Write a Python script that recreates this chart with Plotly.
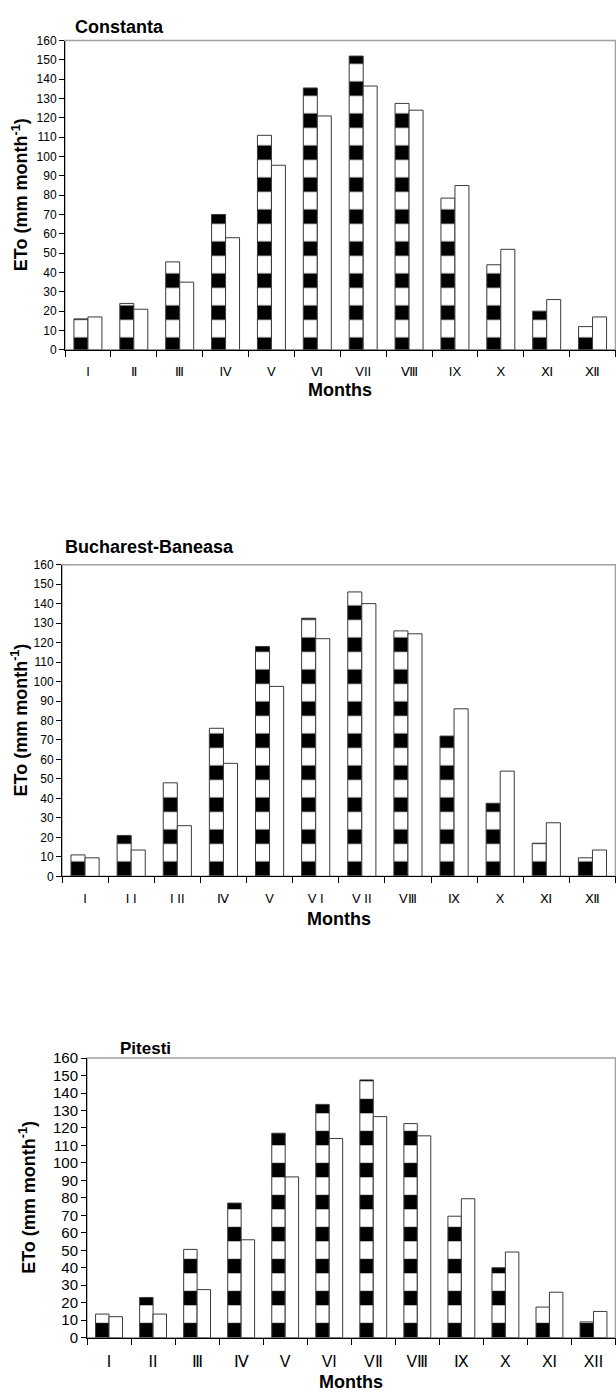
import plotly.graph_objects as go

months = ["I", "II", "III", "IV", "V", "VI", "VII", "VIII", "IX", "X", "XI", "XII"]

# tick labels as printed in each panel
labels_constanta = ["I", "Ⅱ", "Ⅲ", "IV", "V", "Ⅵ", "VII", "Ⅷ", "IX", "X", "Ⅺ", "Ⅻ"]
labels_bucharest = ["I", "I I", "I II", "Ⅳ", "V", "V I", "V II", "VⅢ", "Ⅸ", "X", "Ⅺ", "Ⅻ"]
labels_pitesti = ["I", "II", "Ⅲ", "Ⅳ", "V", "VI", "VⅡ", "VⅢ", "Ⅸ", "X", "XI", "XII"]

# ETo values (mm month-1): striped series and white series
constanta_striped = [16, 24, 45.5, 70, 111, 135.5, 152, 127.5, 78.5, 44, 20, 12]
constanta_white = [17, 21, 35, 58, 95.5, 121, 136.5, 124, 85, 52, 26, 17]

bucharest_striped = [11, 21, 48, 76, 118, 132.5, 146, 126, 72, 37.5, 17, 9.5]
bucharest_white = [9.5, 13.5, 26, 58, 97.5, 122, 140, 124.5, 86, 54, 27.5, 13.5]

pitesti_striped = [13.5, 23, 50.5, 77, 117, 133.5, 147.5, 122.5, 69.5, 40, 17.5, 9]
pitesti_white = [12, 13.5, 27.5, 56, 92, 114, 126.5, 115.5, 79.5, 49, 26, 15]

titles = ["Constanta", "Bucharest-Baneasa", "Pitesti"]

W, H = 616, 1398
FONT = "Liberation Sans, Arial, sans-serif"

# pixel geometry of each panel: left, right, top, bottom
panels = [
    dict(l=65, r=615.5, t=32, b=345, tick=12, lab=13, ytx=20, title_x=73, title_y=18,
         tlab_off=10, months_y=386, ticktext=labels_constanta,
         s=constanta_striped, w=constanta_white, tfont=18),
    dict(l=62, r=615.5, t=562.5, b=878, tick=12, lab=13, ytx=20, title_x=63, title_y=545,
         tlab_off=10, months_y=921, ticktext=labels_bucharest,
         s=bucharest_striped, w=bucharest_white, tfont=18),
    dict(l=87, r=615.5, t=1062, b=1345, tick=15, lab=16, ytx=28, title_x=118, title_y=1052,
         tlab_off=9, months_y=1390, ticktext=labels_pitesti,
         s=pitesti_striped, w=pitesti_white, tfont=17),
]

fig = go.Figure()
shapes = []
annotations = []

for i, p in enumerate(panels):
    n = "" if i == 0 else str(i + 1)
    xa, ya = "x" + n, "y" + n
    fig.add_trace(go.Bar(
        x=months, y=p["s"], xaxis=xa, yaxis=ya, offsetgroup="a", showlegend=False,
        marker=dict(color="white", line=dict(color="#3a3a3a", width=1),
                    pattern=dict(shape="-", fgcolor="black", bgcolor="white",
                                 size=32, solidity=0.45, fillmode="replace")),
    ))
    fig.add_trace(go.Bar(
        x=months, y=p["w"], xaxis=xa, yaxis=ya, offsetgroup="b", showlegend=False,
        marker=dict(color="white", line=dict(color="#3a3a3a", width=1)),
    ))
    xdom = [p["l"] / W, p["r"] / W]
    ydom = [1 - p["b"] / H, 1 - p["t"] / H]
    fig.layout["xaxis" + n] = dict(
        domain=xdom, anchor=ya, type="category", range=[-0.5, 11.5],
        tickmode="array", tickvals=months, ticktext=p["ticktext"],
        tickson="boundaries", ticks="outside", ticklen=6, tickcolor="black",
        showline=True, linecolor="black", linewidth=1, showgrid=False,
        tickfont=dict(family=FONT, size=p["lab"], color="black"),
        ticklabelstandoff=p["tlab_off"], fixedrange=True,
    )
    fig.layout["yaxis" + n] = dict(
        domain=ydom, anchor=xa, range=[0, 160], dtick=10, tick0=0,
        ticks="outside", ticklen=5, tickcolor="black",
        showline=True, linecolor="black", linewidth=1, showgrid=False,
        zeroline=False, tickfont=dict(family=FONT, size=p["tick"], color="black"),
        fixedrange=True,
    )
    # plot area frame (grey), axes drawn over it in black
    shapes.append(dict(type="rect", xref="paper", yref="paper", layer="below",
                       x0=xdom[0], x1=xdom[1], y0=ydom[0], y1=ydom[1],
                       line=dict(color="#a0a0a0", width=1.5), fillcolor="rgba(0,0,0,0)"))
    annotations.append(dict(
        text="<b>" + titles[i] + "</b>", xref="paper", yref="paper",
        x=p["title_x"] / W, y=1 - p["title_y"] / H, xanchor="left", yanchor="middle",
        showarrow=False, font=dict(family=FONT, size=p["tfont"], color="black")))
    annotations.append(dict(
        text="<b>ETo (mm month<sup>-1</sup>)</b>", xref="paper", yref="paper",
        x=p["ytx"] / W, y=1 - (p["t"] + p["b"]) / 2 / H, xanchor="center", yanchor="middle",
        textangle=-90, showarrow=False, font=dict(family=FONT, size=18, color="black")))
    annotations.append(dict(
        text="<b>Months</b>", xref="paper", yref="paper",
        x=(p["l"] + p["r"]) / 2 / W, y=1 - p["months_y"] / H, xanchor="center", yanchor="middle",
        showarrow=False, font=dict(family=FONT, size=18, color="black")))

fig.update_layout(
    width=W, height=H, margin=dict(l=0, r=0, t=0, b=0),
    paper_bgcolor="white", plot_bgcolor="white",
    barmode="group", bargap=0.39, bargroupgap=0,
    shapes=shapes, annotations=annotations,
)

fig.write_html(
    "out.html",
    config={"displayModeBar": False},
    post_script="document.body.style.margin='0';document.body.style.overflow='hidden';"
                "document.documentElement.style.overflow='hidden';",
)
